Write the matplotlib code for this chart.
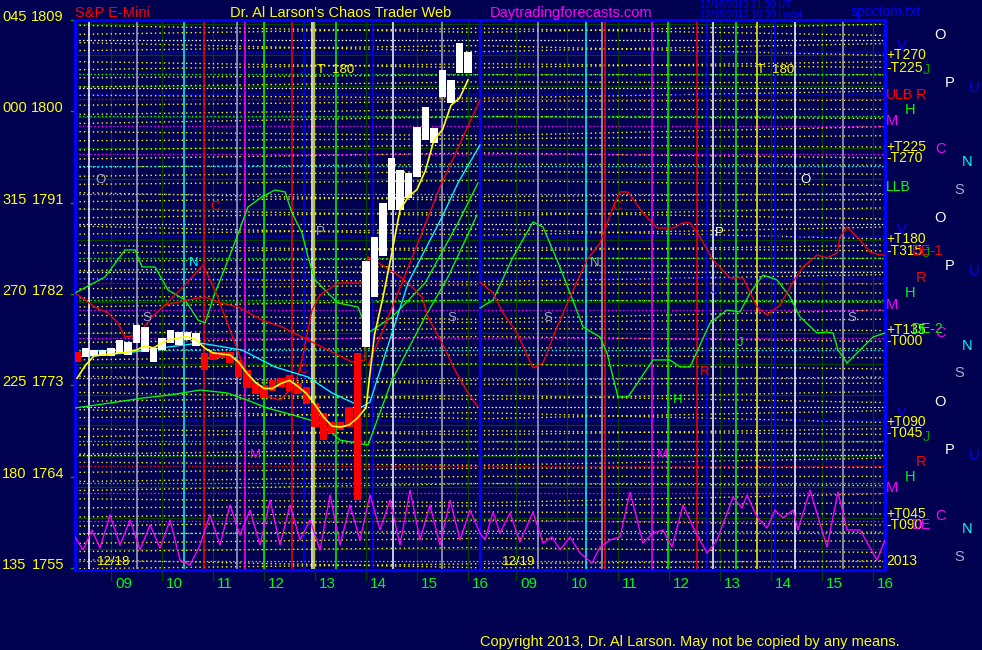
import numpy as np
import matplotlib
matplotlib.use("Agg")
import matplotlib.pyplot as plt
from matplotlib.transforms import blended_transform_factory

plt.rcParams['font.family'] = ['Liberation Sans', 'DejaVu Sans']

# ---------------- colours ----------------
BG = "#000050"
YEL = "#ffff00"; GRN = "#00ff00"; RED = "#ff0000"; MAG = "#ff00ff"
CYN = "#00ffff"; BLU = "#0000ff"; WHT = "#ffffff"; GRY = "#a8a8c8"; DKG = "#004400"

# ---------------- axes frame (hours / price) ----------------
S2_OFFSET = 7.941            # session 2 hours are drawn after session 1
X_MIN, X_MAX = 8.294, 24.176
Y_MIN, Y_MAX = 1754.52, 1808.70
SESSION_END = 16.235

price_labels = [1809, 1800, 1791, 1782, 1773, 1764, 1755]
degree_labels = ["045", "000", "315", "270", "225", "180", "135"]
hour_ticks = [9, 10, 11, 12, 13, 14, 15, 16]
hour_labels = ["09", "10", "11", "12", "13", "14", "15", "16"]

# ---------------- price bars (10 minute, session 1) ----------------
bar_start = 8 + 20 / 60
bar_high = [1776.0, 1776.4, 1776.2, 1776.2, 1776.4, 1777.2, 1777.0, 1778.7, 1778.5, 1776.4,
            1777.4, 1778.2, 1778.0, 1778.0, 1777.9, 1775.9, 1776.0, 1776.0, 1776.0, 1775.2,
            1774.2, 1772.9, 1772.7, 1773.2, 1773.4, 1773.7, 1772.9, 1772.5, 1771.0, 1770.0,
            1769.1, 1769.1, 1770.6, 1775.9, 1785.0, 1787.3, 1790.7, 1795.1, 1793.9, 1793.6,
            1798.2, 1800.1, 1798.1, 1803.8, 1802.8, 1806.4, 1805.5]
bar_low = [1775.0, 1775.5, 1775.6, 1775.6, 1775.6, 1775.9, 1775.7, 1776.9, 1776.0, 1775.0,
           1776.2, 1776.9, 1776.7, 1777.2, 1776.6, 1774.2, 1775.2, 1775.4, 1774.9, 1773.5,
           1772.4, 1771.9, 1771.5, 1772.2, 1772.5, 1772.2, 1771.9, 1770.9, 1768.6, 1767.3,
           1768.0, 1768.3, 1768.6, 1761.4, 1776.5, 1781.4, 1785.5, 1790.0, 1790.0, 1791.2,
           1793.2, 1796.9, 1796.6, 1801.1, 1800.5, 1803.5, 1803.5]
red_windows = [(8.2, 8.4), (10.8, 13.9)]
yellow_ma = [1773.4, 1774.7, 1775.6, 1775.7, 1775.8, 1775.9, 1776.0, 1776.2, 1776.6, 1776.4,
             1776.9, 1777.2, 1777.4, 1777.5, 1777.2, 1776.4, 1775.9, 1775.8, 1775.7, 1775.0,
             1773.9, 1773.0, 1772.4, 1772.4, 1772.9, 1773.2, 1772.6, 1771.9, 1770.8, 1769.6,
             1768.7, 1768.6, 1768.8, 1769.5, 1770.5, 1777.7, 1781.4, 1785.6, 1790.0, 1791.3,
             1792.0, 1793.9, 1796.9, 1797.9, 1800.3, 1801.0, 1802.8]

# ---------------- indicator lines, session 1 ----------------
cyan_h = [8.294, 9.314, 9.961, 10.745, 11.569, 12.216, 12.863, 13.333, 13.922, 14.078,
          14.510, 14.824, 15.157, 15.490, 15.804, 16.235]
cyan_p = [1775.50, 1775.90, 1776.39, 1776.88, 1776.19, 1774.52, 1773.53, 1771.96, 1770.58, 1771.07,
          1777.87, 1782.79, 1786.05, 1789.30, 1792.65, 1796.39]

greenA_h = [8.294, 8.980, 9.627, 10.157, 10.745, 11.275, 11.667, 12.059, 12.569, 13.098,
            13.490, 14.039, 14.510, 15.157, 15.608, 16.176]
greenA_p = [1770.48, 1770.97, 1771.46, 1771.76, 1772.25, 1771.96, 1771.27, 1770.48, 1769.79, 1769.00,
            1767.32, 1766.83, 1773.24, 1779.44, 1783.38, 1789.49]

greenB_h = [8.294, 8.882, 9.275, 9.471, 9.608, 9.863, 10.118, 10.451, 10.706, 10.843,
            11.039, 11.373, 11.686, 11.961, 12.216, 12.412, 12.549, 12.745, 12.863, 13.0,
            13.451, 13.843, 14.039, 14.510, 15.157, 15.804, 16.196]
greenB_p = [1781.81, 1783.38, 1786.05, 1786.05, 1784.37, 1784.37, 1782.10, 1781.12, 1779.15, 1778.85,
            1781.81, 1786.05, 1790.28, 1791.27, 1791.96, 1791.76, 1789.69, 1787.72, 1785.35, 1783.09,
            1780.82, 1780.43, 1777.87, 1779.44, 1782.79, 1788.71, 1792.65]

redA_h = [8.294, 8.686, 8.941, 9.137, 9.275, 9.529, 9.804, 10.059, 10.510, 10.843,
          11.098, 11.490, 11.961, 12.353, 12.863, 13.255, 13.725, 13.980, 14.039, 14.314,
          14.569, 14.824, 15.098, 15.216, 15.490, 15.745, 16.0, 16.196]
redA_p = [1781.81, 1780.43, 1779.84, 1778.85, 1777.47, 1777.67, 1779.44, 1780.62, 1781.12, 1781.41,
          1780.92, 1780.43, 1779.15, 1778.46, 1777.18, 1776.19, 1775.01, 1775.21, 1785.35, 1784.57,
          1783.78, 1782.79, 1781.41, 1779.44, 1776.88, 1774.22, 1771.96, 1770.58]

redC_h = [10.059, 10.451, 10.804, 11.039, 11.333, 11.627, 11.961, 12.314, 12.608, 12.745,
          12.941, 13.098, 13.451, 13.922, 14.039]
redC_p = [1780.62, 1782.60, 1784.57, 1782.10, 1778.16, 1774.22, 1771.76, 1771.27, 1772.74, 1775.21,
          1780.13, 1781.61, 1782.79, 1782.79, 1785.35]

redD_h = [14.039, 14.333, 14.804, 15.451, 16.235]
redD_p = [1774.71, 1778.16, 1784.07, 1792.25, 1800.82]

mag1_h = [8.294, 8.451, 8.627, 8.784, 8.980, 9.176, 9.373, 9.569, 9.765, 9.961,
          10.157, 10.353, 10.549, 10.745, 10.941, 11.137, 11.333, 11.529, 11.725, 11.922,
          12.118, 12.314, 12.510, 12.706, 12.902, 13.098, 13.294, 13.490, 13.686, 13.882,
          14.078, 14.275, 14.471, 14.667, 14.863, 15.059, 15.255, 15.451, 15.647, 15.843,
          16.039, 16.235]
mag1_p = [1757.77, 1756.49, 1758.46, 1756.68, 1759.94, 1756.98, 1759.45, 1756.49, 1758.95, 1756.68,
          1759.45, 1755.50, 1755.01, 1756.98, 1759.94, 1756.98, 1760.92, 1757.96, 1760.43, 1756.98,
          1761.41, 1756.98, 1760.92, 1757.47, 1759.45, 1756.49, 1761.91, 1756.98, 1760.92, 1757.47,
          1761.91, 1758.46, 1761.41, 1756.98, 1762.40, 1757.47, 1760.92, 1756.98, 1761.41, 1757.47,
          1760.43, 1758.16]

# ---------------- forecast lines, session 2 (clock hours) ----------------
green2_h = [8.294, 8.549, 8.941, 9.333, 9.529, 9.804, 10.059, 10.314, 10.647, 10.784,
            11.0, 11.196, 11.686, 12.020, 12.216, 12.412, 12.804, 13.137, 13.392, 13.588,
            13.843, 14.118, 14.373, 14.569, 14.902, 15.098, 15.216, 15.314, 15.490, 15.745,
            16.0, 16.235]
green2_p = [1780.33, 1781.12, 1785.35, 1788.80, 1788.31, 1785.06, 1781.81, 1778.46, 1777.47, 1775.90,
            1771.56, 1771.56, 1775.21, 1775.21, 1774.52, 1774.52, 1778.85, 1780.13, 1779.94, 1781.81,
            1783.58, 1783.09, 1781.41, 1779.44, 1777.87, 1777.96, 1777.87, 1776.19, 1774.91, 1776.19,
            1777.47, 1777.87]

red2_h = [8.294, 8.549, 8.745, 9.020, 9.333, 9.529, 9.804, 10.059, 10.392, 10.647,
          10.902, 11.039, 11.196, 11.490, 11.765, 12.078, 12.275, 12.412, 12.608, 12.863,
          13.196, 13.451, 13.725, 13.922, 14.176, 14.431, 14.627, 14.902, 15.098, 15.294,
          15.353, 15.490, 15.745, 15.941, 16.137, 16.235]
red2_p = [1782.89, 1781.81, 1779.84, 1777.87, 1774.42, 1774.91, 1778.46, 1781.41, 1785.06, 1786.73,
          1790.28, 1791.76, 1791.76, 1789.69, 1788.21, 1788.21, 1788.71, 1788.71, 1787.32, 1785.06,
          1783.29, 1783.29, 1780.43, 1779.64, 1780.62, 1782.89, 1784.37, 1785.55, 1785.26, 1785.75,
          1787.32, 1788.31, 1787.03, 1785.85, 1785.55, 1785.55]

mag2_h = [8.294, 8.392, 8.549, 8.686, 8.882, 9.078, 9.333, 9.529, 9.706, 9.863,
          10.059, 10.255, 10.490, 10.647, 10.843, 11.039, 11.235, 11.490, 11.686, 11.882,
          12.059, 12.275, 12.471, 12.745, 12.941, 13.255, 13.431, 13.529, 13.725, 13.922,
          14.078, 14.235, 14.431, 14.529, 14.765, 15.098, 15.314, 15.490, 15.745, 16.078,
          16.235]
mag2_p = [1758.16, 1757.47, 1760.23, 1758.16, 1760.13, 1757.27, 1760.23, 1757.17, 1757.77, 1756.49,
          1757.77, 1756.19, 1755.21, 1756.78, 1757.47, 1757.77, 1762.20, 1757.17, 1758.16, 1758.46,
          1756.78, 1760.92, 1758.75, 1756.19, 1757.47, 1761.71, 1760.63, 1761.91, 1759.74, 1758.65,
          1760.43, 1759.64, 1760.43, 1758.46, 1762.40, 1756.78, 1762.20, 1758.46, 1758.46, 1755.50,
          1757.47]

# ---------------- vertical event lines (clock hour, colour) ----------------
vlines_s1 = [(8.569, WHT), (9.51, GRY), (10.43, CYN), (10.82, RED), (11.47, GRY), (11.63, MAG),
             (12.0, GRN), (12.55, RED), (12.78, BLU), (12.94, WHT), (12.98, YEL), (13.41, GRN),
             (14.14, BLU), (14.53, WHT), (15.49, GRY)]
vlines_s2 = [(9.431, GRY), (10.373, CYN), (10.686, GRY), (10.745, RED), (11.667, MAG), (11.980, GRN),
             (12.549, RED), (12.745, BLU), (12.863, WHT), (13.314, GRN), (13.725, YEL), (14.078, BLU),
             (14.471, WHT), (15.412, GRY)]

# ---------------- horizontal level lines (repeat every 18.08 points) ----------------
PERIOD = 18.08
hlevels = [(1798.26, MAG), (1795.50, MAG), (1794.32, CYN), (1791.56, GRY), (1787.42, BLU),
           (1785.26, GRN), (1800.89, RED), (1799.22, GRN), (1802.0, WHT), (1801.4, BLU),
           (1806.7, WHT)]
YEL_BASE = 1787.0
yellow_offsets = [(0.6, 1.1, 0.13), (1.4, 0.5, 1.3), (2.2, 2.8, 2.1), (3.1, 2.4, 3.2),
                  (3.8, 4.3, 4.6), (4.7, 3.9, 4.0), (5.5, 5.9, 5.4), (6.3, 6.8, 6.5),
                  (7.2, 7.5, 7.4), (8.0, 8.6, 8.11), (8.9, 9.4, 9.19), (9.8, 10.0, 10.3),
                  (10.7, 10.3, 11.2), (11.5, 12.2, 12.0), (12.4, 12.9, 12.9), (13.3, 13.7, 13.8),
                  (14.3, 14.0, 14.7), (15.1, 15.6, 15.5), (16.0, 16.3, 16.3), (16.8, 17.4, 17.03),
                  (17.6, 17.0, 17.6)]

# ---------------- right-hand labels ----------------
right_labels = [("+T270", YEL, 1805.26), ("-T225", YEL, 1803.98), ("ULB", RED, 1801.32),
                ("+T225", YEL, 1796.19), ("-T270", YEL, 1795.11), ("LLB", GRN, 1792.25),
                ("+T180", YEL, 1787.13), ("-T315", YEL, 1785.95),
                ("+T135", YEL, 1778.16), ("-T000", YEL, 1777.08),
                ("+T090", YEL, 1769.10), ("-T045", YEL, 1768.01),
                ("+T045", YEL, 1760.03), ("-T090", YEL, 1758.95), ("2013", YEL, 1755.40)]
right_tags = [("DE-1", RED, 1785.95), ("DE-2", GRN, 1778.26), ("DE", MAG, 1758.95)]
# letter, colour, x pixel column, price of first occurrence
planet_letters = [("O", WHT, 934, 1807.23), ("V", BLU, 897, 1806.14), ("J", "#00a000", 923, 1803.78),
                  ("P", WHT, 945, 1802.50), ("U", BLU, 969, 1802.01), ("R", RED, 916, 1801.32),
                  ("H", GRN, 905, 1799.84), ("M", MAG, 886, 1798.75), ("C", MAG, 935, 1795.99),
                  ("N", CYN, 962, 1794.71), ("S", GRY, 954, 1791.96)]

# in-chart markers: (text, colour, session, clock hour, price)
markers = [("O", GRY, 1, 8.686, 1792.94), ("N", CYN, 1, 10.53, 1784.76), ("C", RED, 1, 10.94, 1790.28),
           ("S", GRY, 1, 9.61, 1779.34), ("P", GRY, 1, 13.02, 1787.82), ("C", RED, 1, 12.67, 1774.22),
           ("M", MAG, 1, 11.73, 1765.85), ("S", GRY, 1, 15.59, 1779.34),
           ("S", GRY, 2, 9.53, 1779.34), ("N", "#80c080", 2, 10.45, 1784.76), ("C", RED, 2, 10.88, 1790.28),
           ("P", WHT, 2, 12.90, 1787.72), ("U", BLU, 2, 12.80, 1782.10), ("R", RED, 2, 12.61, 1774.02),
           ("H", GRN, 2, 12.08, 1771.27), ("M", MAG, 2, 11.76, 1765.85), ("O", WHT, 2, 14.57, 1792.94),
           ("S", GRY, 2, 15.49, 1779.34), ("J", GRN, 2, 13.33, 1776.88),
           ("T  180", YEL, 1, 13.04, 1803.78), ("T  180", YEL, 2, 13.73, 1803.78),
           ("12/18", YEL, 1, 8.725, 1755.30), ("12/19", YEL, 2, 8.725, 1755.30)]


def cx(h, session):
    return np.asarray(h) + (S2_OFFSET if session == 2 else 0.0)


# ---------------- figure ----------------
W, H = 982, 650
fig = plt.figure(figsize=(W / 100, H / 100), dpi=100, facecolor=BG)
ax = fig.add_axes([75 / W, (H - 570) / H, 810 / W, 550 / H], facecolor=BG)
ax.set_xlim(X_MIN, X_MAX)
ax.set_ylim(Y_MIN, Y_MAX)
ax.set_xticks([]); ax.set_yticks([])
for s in ax.spines.values():
    s.set_color(BLU); s.set_linewidth(2.2)

# background grid
for lv in np.arange(1756.6, Y_MAX, 3.04):
    ax.axhline(lv, color=DKG, lw=0.9, zorder=0)
for sess in (1, 2):
    for hr in hour_ticks:
        ax.plot([cx(hr, sess)] * 2, [Y_MIN - 1.0, Y_MAX], color=DKG, lw=0.9, zorder=0, clip_on=False)

# yellow level lines
for k in range(-3, 3):
    base = YEL_BASE - PERIOD * k
    for (l, m, r) in yellow_offsets:
        ax.plot([X_MIN, SESSION_END, X_MAX], [base + l, base + m, base + r], color=YEL,
                lw=1.0, ls=(0, (1, 2.2)), zorder=1)

# coloured horizontal levels
for k in range(-3, 3):
    for lv, col in hlevels:
        ax.axhline(lv - PERIOD * k, color=col, lw=0.9, ls=(0, (1.2, 1.8)), zorder=1.5)

# vertical event lines
for hr, col in vlines_s1:
    ax.axvline(cx(hr, 1), color=col, lw=1.1, zorder=2)
for hr, col in vlines_s2:
    ax.axvline(cx(hr, 2), color=col, lw=1.1, zorder=2)
ax.axvline(SESSION_END, color=BLU, lw=2.2, zorder=2)

# indicator lines
lw = 0.95
ax.plot(cx(mag1_h, 1), mag1_p, color=MAG, lw=lw, zorder=3)
ax.plot(cx(mag2_h, 2), mag2_p, color=MAG, lw=lw, zorder=3)
ax.plot(cx(greenA_h, 1), greenA_p, color=GRN, lw=lw, zorder=3)
ax.plot(cx(greenB_h, 1), greenB_p, color=GRN, lw=lw, zorder=3)
ax.plot(cx(redA_h, 1), redA_p, color=RED, lw=lw, zorder=3)
ax.plot(cx(redC_h, 1), redC_p, color=RED, lw=lw, zorder=3)
ax.plot(cx(redD_h, 1), redD_p, color=RED, lw=lw, zorder=3)
ax.plot(cx(cyan_h, 1), cyan_p, color=CYN, lw=lw, zorder=3)
ax.plot(cx(green2_h, 2), green2_p, color=GRN, lw=lw, zorder=3)
ax.plot(cx(red2_h, 2), red2_p, color=RED, lw=lw, zorder=3)

# price bars
bt = bar_start + np.arange(len(bar_high)) / 6.0
hi = np.array(bar_high); lo = np.array(bar_low)
cols = [RED if any(a <= t < b for a, b in red_windows) else WHT for t in bt]
ax.bar(cx(bt, 1), hi - lo, bottom=lo, width=0.15, color=cols, zorder=4, linewidth=0)
ax.plot(cx(bt, 1), yellow_ma, color=YEL, lw=1.2, zorder=5)

# in-chart markers
for txt, col, sess, hr, pr in markers:
    ax.text(cx(hr, sess), pr, txt, color=col, fontsize=9.5, va="center", ha="left", zorder=6)

# ---------------- outside labels ----------------
tl = blended_transform_factory(fig.transFigure, ax.transData)
for pr, dg in zip(price_labels, degree_labels):
    ax.text(2 / W, pr, dg, transform=tl, color=YEL, fontsize=10.5, va="center", ha="left", clip_on=False)
    ax.text(64 / W, pr, str(pr), transform=tl, color=YEL, fontsize=10.5, va="center", ha="right", clip_on=False)
    ax.plot([71 / W, 75 / W], [pr - 0.3, pr - 0.3], transform=tl, color="#00a000", lw=1, clip_on=False)

for txt, col, pr in right_labels:
    ax.text(886 / W, pr, txt, transform=tl, color=col, fontsize=10, va="center", ha="left", clip_on=False)
for txt, col, pr in right_tags:
    ax.text(912 / W, pr, txt, transform=tl, color=col, fontsize=10, va="center", ha="left", clip_on=False)
for txt, col, px, pr in planet_letters:
    for k in range(0, 3):
        p = pr - PERIOD * k
        if Y_MIN < p < Y_MAX:
            ax.text(px / W, p, txt, transform=tl, color=col, fontsize=10.5, va="center",
                    ha="left", clip_on=False)

tb = blended_transform_factory(ax.transData, fig.transFigure)
for sess in (1, 2):
    for hr, lab in zip(hour_ticks, hour_labels):
        ax.text(cx(hr, sess) + 0.08, 1 - 584 / H, lab, transform=tb, color=GRN, fontsize=11,
                va="center", ha="left", clip_on=False)

fig.text(75 / W, 1 - 13 / H, "S&P E-Mini", color=RED, fontsize=10.5, va="center", ha="left")
fig.text(230 / W, 1 - 13 / H, "Dr. Al Larson's Chaos Trader Web", color=YEL, fontsize=10.5, va="center", ha="left")
fig.text(490 / W, 1 - 13 / H, "Daytradingforecasts.com", color=MAG, fontsize=10.5, va="center", ha="left")
fig.text(700 / W, 1 - 5 / H, "12/18/2013 21:30 UT", color=BLU, fontsize=7, va="center", ha="left")
fig.text(700 / W, 1 - 15 / H, "12/18/2013 16:30 Local", color=BLU, fontsize=7, va="center", ha="left")
fig.text(851 / W, 1 - 12 / H, "spcctom.txt", color=BLU, fontsize=10, va="center", ha="left")
fig.text(480 / W, 1 - 642 / H, "Copyright 2013, Dr. Al Larson. May not be copied by any means.",
         color=YEL, fontsize=10.5, va="center", ha="left")

fig.savefig("out.png", dpi=100, facecolor=BG)
